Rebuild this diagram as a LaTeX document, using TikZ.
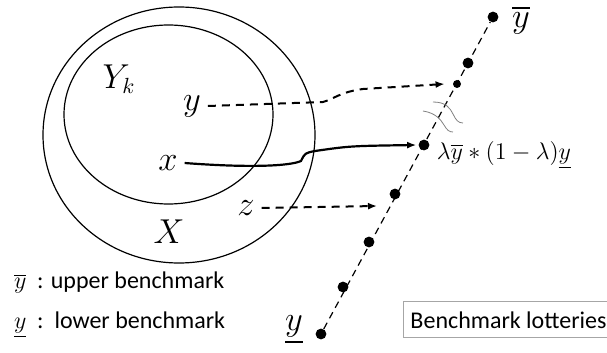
\documentclass[tikz,border=0pt]{standalone}
\usepackage{amsmath,amssymb}
\usepackage{fontspec}
\setmainfont{Carlito}
\usetikzlibrary{arrows.meta}

\begin{document}
\begin{tikzpicture}[x=0.5pt,y=-0.5pt,
  lot/.style={circle,fill,inner sep=0pt,minimum size=5.4pt},
  lotsmall/.style={circle,fill,inner sep=0pt,minimum size=4pt},
  lbl/.style={font=\fontsize{16}{18}\selectfont},
  txt/.style={font=\fontsize{12}{14}\selectfont,anchor=west},
  dasharrow/.style={line width=1pt,dash pattern=on 4pt off 3pt,-{Latex[length=4.5pt,width=3.5pt]}},
  solarrow/.style={line width=1.1pt,-{Latex[length=4.5pt,width=3.5pt]}}]
\useasboundingbox (0,0) rectangle (607,353);
% the two sets
\draw[line width=0.6pt] (179,135) ellipse [x radius=136, y radius=128];
\draw[line width=0.6pt] (168.5,114.5) ellipse [x radius=104.5, y radius=89.5];
\node[lbl] (Yk) at (119,79) {$Y_k$};
\node[lbl] (yy) at (192,106) {$y$};
\node[lbl] (xx) at (168,163) {$x$};
\node[lbl] (zz) at (246,208) {$z$};
\node[lbl] (XX) at (169,232) {$X$};
% lottery line
\node[lot] (lo) at (321,334) {};
\node[lot] (d1) at (343,287) {};
\node[lot] (d2) at (369,242) {};
\node[lot] (d3) at (395,194) {};
\node[lot] (d4) at (424,145) {};
\node[lotsmall] (d5) at (457,84) {};
\node[lot] (d6) at (468,63) {};
\node[lot] (up) at (493,17) {};
\draw[line width=0.6pt,dash pattern=on 3.5pt off 2.5pt] (lo) -- (up);
\node[lbl] at (521,20) {$\overline{y}$};
\node[lbl] at (294,330) {$\underline{y}$};
\node[font=\fontsize{12}{14}\selectfont] (mix) at (504,155) {$\lambda\overline{y}*(1-\lambda)\underline{y}$};
% break marks
\draw[gray,line width=0.4pt] (433,102) .. controls (446,102) and (450,108) .. (453,114) .. controls (456,120) and (458,123) .. (463,123);
\draw[gray,line width=0.4pt] (423,111) .. controls (436,113) and (441,120) .. (444,125) .. controls (447,130) and (449,132) .. (453,132);
% mappings
\coordinate (zend) at (377,206);
\draw[dasharrow] (yy.east) -- (323,102) .. controls (334,99) and (340,92) .. (363,89) -- ([xshift=-4pt]d5.west);
\draw[solarrow] (xx.east) .. controls (250,168) and (290,166) .. (301,161) .. controls (305,153) .. (315,151) .. controls (350,146) .. ([xshift=-1pt]d4.west);
\draw[dasharrow] (zz.east) -- (zend);
% legend
\node[txt] (upleg) at (7,283) {$\overline{y}$\ \ : upper benchmark};
\node[txt] (loleg) at (7,325) {$\underline{y}$\ \ :\ \ lower benchmark};
\node[draw=gray!70,line width=0.5pt,font=\fontsize{12}{14}\selectfont,minimum width=96pt,minimum height=18pt] (box) at (508.5,320) {Benchmark lotteries};
\end{tikzpicture}
\end{document}
